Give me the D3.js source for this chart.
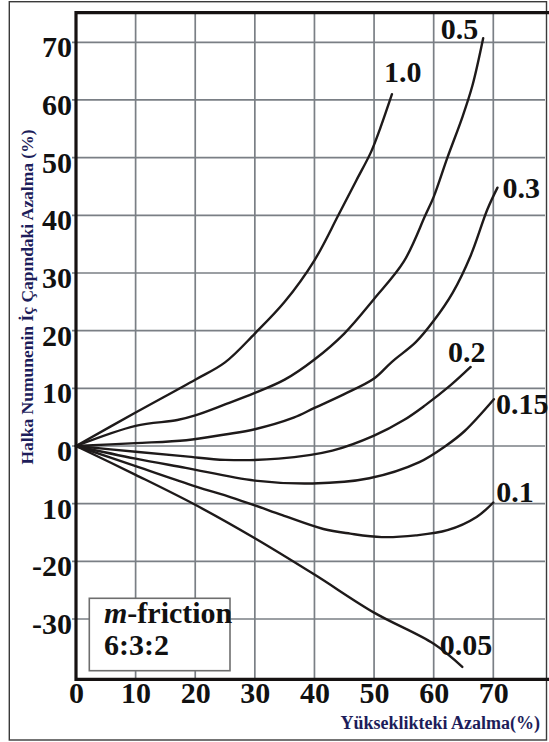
<!DOCTYPE html>
<html>
<head>
<meta charset="utf-8">
<script src="https://cdn.jsdelivr.net/npm/d3@7"></script>
<style>
  html, body { margin: 0; padding: 0; background: #fff; }
  svg { display: block; }
  text { font-family: "Liberation Serif", "Times New Roman", serif; font-weight: bold; }
</style>
</head>
<body>
<div id="chart"></div>
<script>
// Axis ticks
const xTicks = [0, 10, 20, 30, 40, 50, 60, 70];
const xTickLabels = ["0", "10", "20", "30", "40", "50", "60", "70"];
const yTicks = [70, 60, 50, 40, 30, 20, 10, 0, -10, -20, -30];
const yTickLabels = ["70", "60", "50", "40", "30", "20", "10", "0", "10", "-20", "-30"];

// Friction factor of each curve
const frictionLabels = ["1.0", "0.5", "0.3", "0.2", "0.15", "0.1", "0.05"];

// Height reduction (%) along each curve
const heightRed_10  = [0, 10, 20, 25, 30, 35, 40, 44, 47, 49.5, 51, 53];
const heightRed_05  = [0, 10, 17, 20, 25, 30, 35, 40, 45, 50, 55, 58.6, 60, 62.3, 64.8, 66.5, 68.3];
const heightRed_03  = [0, 10, 18.5, 25, 30, 36.5, 40, 45, 50, 53, 57, 60, 63.2, 66.2, 69, 70.7];
const heightRed_02  = [0, 10, 18.4, 25, 34, 43, 50, 55, 58.5, 62.8, 66.2];
const heightRed_015 = [0, 10, 18.4, 30, 39.7, 49.2, 57.6, 62, 65.2, 70.1];
const heightRed_01  = [0, 10, 20, 26, 30, 34.6, 41.5, 46, 51.3, 57, 62.3, 67.2, 70];
const heightRed_005 = [0, 10, 20, 30, 40, 50, 60, 64.8];

// Inner diameter reduction (%) along each curve
const diaRed_10  = [0, 5.8, 11.5, 14.5, 19.5, 25, 32.2, 40, 46, 51, 55, 61];
const diaRed_05  = [0, 3.5, 4.5, 5.3, 7.2, 9.2, 11.5, 15, 19.5, 25.5, 32, 40, 43.2, 50, 57, 62.5, 70.7];
const diaRed_03  = [0, 0.5, 1, 2, 2.9, 4.9, 6.6, 9, 11.7, 14.6, 18, 21.7, 26.6, 33, 41, 44.8];
const diaRed_02  = [0, -1, -1.8, -2.4, -2.2, -0.8, 1.8, 4.5, 7, 10.5, 13.7];
const diaRed_015 = [0, -2.2, -3.8, -6, -6.5, -5.6, -2.8, 0, 2.6, 8.1];
const diaRed_01  = [0, -3.5, -7, -8.9, -10.3, -12, -14.4, -15.2, -15.8, -15.5, -14.6, -12.3, -9.8];
const diaRed_005 = [0, -5, -10.2, -16, -22.3, -28.9, -34.3, -38.3];

const heightSeries = [heightRed_10, heightRed_05, heightRed_03, heightRed_02, heightRed_015, heightRed_01, heightRed_005];
const diaSeries = [diaRed_10, diaRed_05, diaRed_03, diaRed_02, diaRed_015, diaRed_01, diaRed_005];

// Label placement relative to each curve's last point (pixels)
const labelPlace = [
  { dx: -8, dy: -12, anchor: "start" },
  { dx: -5, dy: 1, anchor: "end" },
  { dx: 5, dy: 10, anchor: "start" },
  { dx: -4, dy: -5, anchor: "middle" },
  { dx: 2, dy: 15, anchor: "start" },
  { dx: 3, dy: -1, anchor: "start" },
  { dx: 30, dy: -12, anchor: "end" }
];

const W = 549, H = 742;
const plot = { left: 76, top: 12.7, right: 549, bottom: 679.3, gridRight: 545 };
const FS = 30;

const svg = d3.select("#chart").append("svg")
  .attr("width", W).attr("height", H);

const x = d3.scaleLinear().domain([0, 70]).range([plot.left, 493.3]);
const y = d3.scaleLinear().domain([-30, 70]).range([619, 42.3]);

// Outer frame
svg.append("rect")
  .attr("x", 9.3).attr("y", 1.7)
  .attr("width", 546.5 - 9.3).attr("height", 740 - 1.7)
  .attr("fill", "none").attr("stroke", "#3a3a3a").attr("stroke-width", 1.4);

// Grid
const grid = svg.append("g").attr("stroke", "#7a7f85").attr("stroke-width", 1.7);
grid.selectAll("line.v").data(xTicks.filter(d => d > 0)).join("line")
  .attr("class", "v")
  .attr("x1", d => x(d)).attr("x2", d => x(d))
  .attr("y1", plot.top).attr("y2", plot.bottom);
grid.selectAll("line.h").data(yTicks).join("line")
  .attr("class", "h")
  .attr("x1", plot.left - 4).attr("x2", plot.gridRight)
  .attr("y1", d => y(d)).attr("y2", d => y(d));

// Legend box
const legend = svg.append("g");
legend.append("rect")
  .attr("x", 89.3).attr("y", 598.3).attr("width", 140.7).attr("height", 72.4)
  .attr("fill", "#fff").attr("stroke", "#6e6e6e").attr("stroke-width", 1.6);
const lt = legend.append("text").attr("x", 104).attr("y", 623)
  .attr("font-size", FS).attr("fill", "#111");
lt.append("tspan").attr("font-style", "italic").text("m");
lt.append("tspan").text("-friction");
legend.append("text").attr("x", 104).attr("y", 655)
  .attr("font-size", FS).attr("fill", "#111").text("6:3:2");

// Curves
const line = d3.line()
  .x(d => x(d[0])).y(d => y(d[1]))
  .curve(d3.curveCatmullRom.alpha(0.5));

const curves = frictionLabels.map((name, i) => ({
  name,
  pts: heightSeries[i].map((hv, j) => [hv, diaSeries[i][j]])
}));

svg.append("g").selectAll("path").data(curves).join("path")
  .attr("d", d => line(d.pts))
  .attr("fill", "none").attr("stroke", "#1e1a1a")
  .attr("stroke-width", 2.4).attr("stroke-linecap", "round");

svg.append("g").selectAll("text").data(curves).join("text")
  .attr("x", (d, i) => x(d.pts[d.pts.length - 1][0]) + labelPlace[i].dx)
  .attr("y", (d, i) => y(d.pts[d.pts.length - 1][1]) + labelPlace[i].dy)
  .attr("text-anchor", (d, i) => labelPlace[i].anchor)
  .attr("font-size", FS).attr("fill", "#111")
  .text(d => d.name);

// Axes frame lines
const frame = svg.append("g").attr("stroke", "#161212").attr("stroke-width", 3.2);
frame.append("line").attr("x1", plot.left).attr("x2", plot.left)
  .attr("y1", plot.top - 1.6).attr("y2", plot.bottom + 1.6);
frame.append("line").attr("x1", plot.left).attr("x2", plot.right)
  .attr("y1", plot.top).attr("y2", plot.top);
frame.append("line").attr("x1", plot.left).attr("x2", plot.right)
  .attr("y1", plot.bottom).attr("y2", plot.bottom);

// Y tick labels
const yAxis = d3.axisLeft(y).tickValues(yTicks)
  .tickFormat((d, i) => yTickLabels[i]).tickSize(0).tickPadding(0);
const gy = svg.append("g").attr("transform", `translate(${plot.left - 4},0)`).call(yAxis);
gy.select(".domain").remove();
gy.selectAll("text")
  .attr("font-family", "Liberation Serif").attr("font-weight", "bold")
  .attr("font-size", FS).attr("fill", "#111")
  .attr("dy", 14.5).attr("text-anchor", "end");

// X tick labels
const xAxis = d3.axisBottom(x).tickValues(xTicks)
  .tickFormat((d, i) => xTickLabels[i]).tickSize(0).tickPadding(0);
const gx = svg.append("g").attr("transform", `translate(0,${plot.bottom})`).call(xAxis);
gx.select(".domain").remove();
gx.selectAll("text")
  .attr("font-family", "Liberation Serif").attr("font-weight", "bold")
  .attr("font-size", FS).attr("fill", "#111")
  .attr("y", 0).attr("dy", 23.5);

// Axis titles
svg.append("text")
  .attr("transform", "translate(33,297) rotate(-90)")
  .attr("text-anchor", "middle")
  .attr("font-size", 17.5).attr("fill", "#1d1d5a")
  .text("Halka Numunenin İç Çapındaki Azalma (%)");

svg.append("text")
  .attr("x", 540).attr("y", 729)
  .attr("text-anchor", "end")
  .attr("font-size", 18).attr("fill", "#1d1d5a")
  .text("Yükseklikteki Azalma(%)");
</script>
</body>
</html>
